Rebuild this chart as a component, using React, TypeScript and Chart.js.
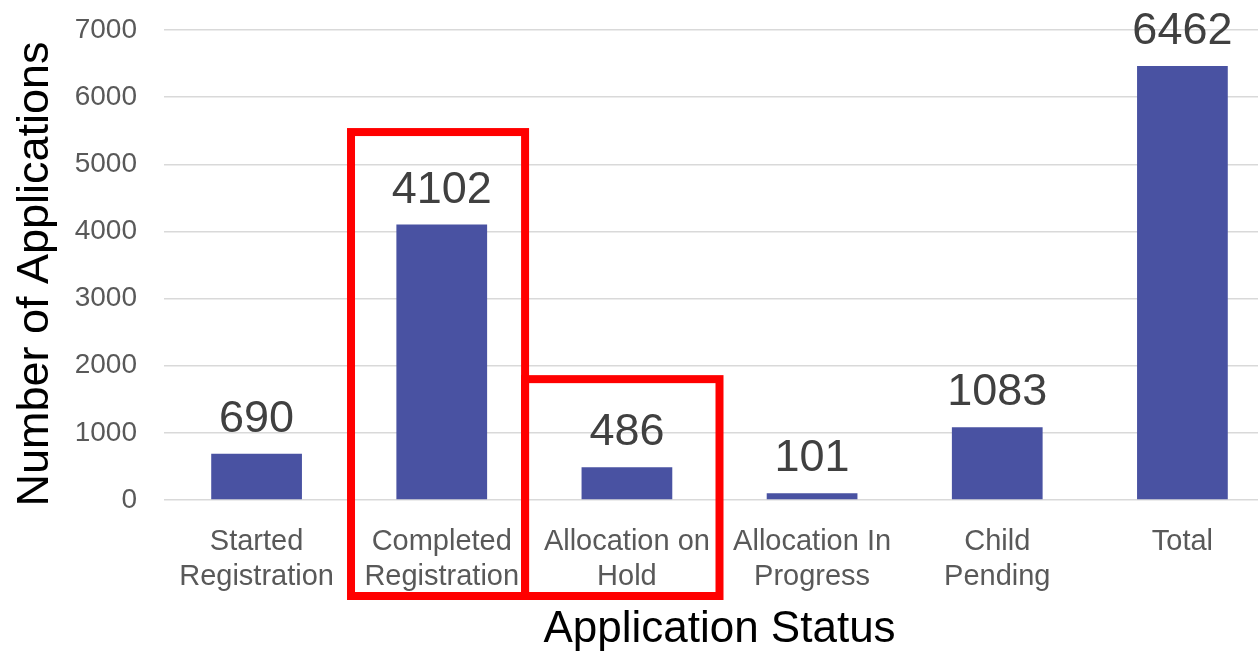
import React, { useEffect, useRef } from "react";
import { Chart, registerables } from "chart.js";

Chart.register(...registerables);

const categories: string[][] = [
  ["Started", "Registration"],
  ["Completed", "Registration"],
  ["Allocation on", "Hold"],
  ["Allocation In", "Progress"],
  ["Child", "Pending"],
  ["Total"],
];
const applications: number[] = [690, 4102, 486, 101, 1083, 6462];
const yTicks: number[] = [0, 1000, 2000, 3000, 4000, 5000, 6000, 7000];
const yTitle = "Number of Applications";
const xTitle = "Application Status";
const highlightBoxes = [
  { from: 0.51, to: 1.45, top: 5480 },
  { from: 1.45, to: 2.5, top: 1800 },
];

const FONT = "'Liberation Sans', Arial, sans-serif";

const valueLabels = {
  id: "valueLabels",
  afterDatasetsDraw(chart: any) {
    const ctx = chart.ctx;
    const meta = chart.getDatasetMeta(0);
    ctx.save();
    ctx.font = `45px ${FONT}`;
    ctx.fillStyle = "#404040";
    ctx.textAlign = "center";
    ctx.textBaseline = "alphabetic";
    meta.data.forEach((bar: any, i: number) => {
      ctx.fillText(String(applications[i]), bar.x, bar.y - 22);
    });
    ctx.restore();
  },
};

const yAxisTitle = {
  id: "yAxisTitle",
  afterDraw(chart: any) {
    const ctx = chart.ctx;
    const area = chart.chartArea;
    ctx.save();
    ctx.translate(36, (area.top + area.bottom) / 2 + 9);
    ctx.rotate(-Math.PI / 2);
    ctx.font = `45px ${FONT}`;
    ctx.fillStyle = "#000000";
    ctx.textAlign = "center";
    ctx.textBaseline = "middle";
    ctx.fillText(yTitle, 0, 0);
    ctx.restore();
  },
};

const boxes = {
  id: "boxes",
  afterDraw(chart: any) {
    const ctx = chart.ctx;
    const xs = chart.scales.x;
    const ys = chart.scales.y;
    const bottom = chart.chartArea.bottom + 96;
    ctx.save();
    ctx.strokeStyle = "#FF0000";
    ctx.lineWidth = 8;
    highlightBoxes.forEach((b) => {
      const l = xs.getPixelForValue(b.from);
      const r = xs.getPixelForValue(b.to);
      const t = ys.getPixelForValue(b.top);
      ctx.strokeRect(l, t, r - l, bottom - t);
    });
    ctx.restore();
  },
};

export default function App() {
  const ref = useRef<HTMLCanvasElement>(null);
  useEffect(() => {
    if (!ref.current) return;
    const chart = new Chart(ref.current, {
      type: "bar",
      data: {
        labels: categories,
        datasets: [
          {
            data: applications,
            backgroundColor: "#4952A2",
            barPercentage: 0.49,
            categoryPercentage: 1,
          },
        ],
      },
      options: {
        responsive: false,
        animation: false,
        layout: { padding: { top: 30, right: 0, left: 0, bottom: 0 } },
        plugins: { legend: { display: false }, tooltip: { enabled: false } },
        scales: {
          x: {
            grid: { display: false, drawTicks: false },
            border: { display: false },
            ticks: {
              color: "#595959",
              font: { family: FONT, size: 29, lineHeight: 1.2 },
              padding: 25,
              maxRotation: 0,
              autoSkip: false,
            },
            title: {
              display: true,
              text: xTitle,
              color: "#000000",
              font: { family: FONT, size: 44, lineHeight: 1 },
              padding: { top: 0, bottom: 1 },
            },
            afterFit: (s: any) => {
              s.height = 153;
              s.paddingLeft = 0;
              s.paddingRight = 0;
            },
          },
          y: {
            min: 0,
            max: 7000,
            afterBuildTicks: (s: any) => {
              s.ticks = yTicks.map((v) => ({ value: v }));
            },
            grid: { color: "#D9D9D9", lineWidth: 1.5, drawTicks: false },
            border: { display: false },
            ticks: {
              color: "#595959",
              font: { family: FONT, size: 28 },
              padding: 27,
              callback: (v: any) => String(v),
            },
            title: { display: false },
            afterFit: (s: any) => {
              s.width = 164;
              s.paddingTop = 0;
              s.paddingBottom = 0;
            },
          },
        },
      },
      plugins: [valueLabels, yAxisTitle, boxes],
    });
    return () => chart.destroy();
  }, []);
  return (
    <div
      style={{
        position: "fixed",
        left: 0,
        top: 0,
        width: 1258,
        height: 653,
        overflow: "hidden",
        background: "#ffffff",
      }}
    >
      <canvas ref={ref} width={1275} height={653} style={{ width: 1275, height: 653, display: "block" }} />
    </div>
  );
}
